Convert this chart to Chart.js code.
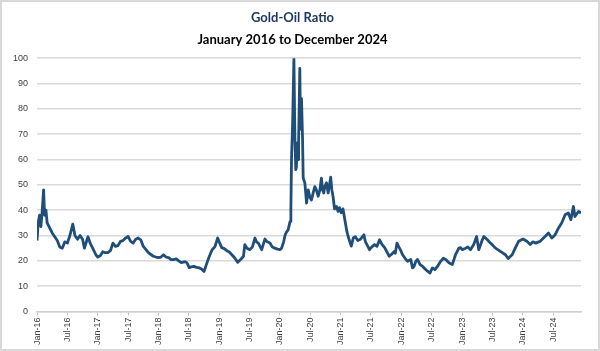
<!DOCTYPE html>
<html>
<head>
<meta charset="utf-8">
<title>Gold-Oil Ratio</title>
<script src="https://cdn.jsdelivr.net/npm/chart.js@4.4.1/dist/chart.umd.min.js"></script>
<style>
  html, body { margin: 0; padding: 0; background: #ffffff; }
  #wrap { position: relative; width: 600px; height: 351px; }
  #frame { position: absolute; left: 0; top: 0; width: 600px; height: 351px;
           box-sizing: border-box; border: 2px solid #d9d9d9; pointer-events: none; }
</style>
</head>
<body>
<div id="wrap">
  <canvas id="ratioChart" width="600" height="351"></canvas>
  <div id="frame"></div>
</div>
<script>
// --- data: dates (MM-DD) and gold/oil ratio, one pair per year ---
const d2016 = ['01-01','01-08','01-16','01-24','02-01','02-10','02-16','02-24','03-01','03-16','04-01','04-16','05-01','05-16','06-01','06-16','07-01','07-16','08-03','08-16','09-01','09-16','10-01','10-12','11-03','11-16','12-01','12-20'];
const v2016 = [28, 35, 38, 33.5, 39, 48, 38, 40, 35, 33, 31, 29.5, 28, 25.5, 25, 27.5, 27, 30, 34.5, 30, 28.5, 30, 28.5, 25, 29.5, 27, 25, 22.4];

const d2017 = ['01-01','01-16','02-01','02-16','03-01','03-16','04-01','04-16','05-01','05-16','06-01','06-16','07-01','07-16','08-01','08-16','09-01','09-16','10-01','10-16','11-01','11-16','12-01','12-16'];
const v2017 = [21.5, 22, 23.6, 23.2, 23.2, 24, 27, 25.7, 26, 27.7, 28, 29, 29.6, 27.7, 27, 28.5, 29, 28.3, 25.7, 24.5, 23.2, 22.5, 21.8, 21.5];

const d2018 = ['01-01','01-16','02-01','02-16','03-01','03-16','04-01','04-16','05-01','05-16','06-09','06-20','07-03','07-16','08-01','08-16','09-01','09-16','10-01','10-19','11-01','11-19','12-06','12-22'];
const v2018 = [21.3, 21.5, 22.4, 21.5, 21.3, 20.5, 20.5, 20.8, 20, 19.3, 19.7, 19.2, 17.3, 17.6, 17.8, 17.4, 17.3, 16.8, 15.8, 19.3, 21.5, 24.4, 25.6, 29];

const d2019 = ['01-01','01-16','02-01','02-16','03-01','03-16','04-01','04-21','05-08','05-25','06-03','06-16','07-03','07-18','08-03','08-12','08-23','09-13','10-02','10-16','11-02','11-16','12-01','12-16'];
const v2019 = [27.5, 25.2, 24.8, 24, 23.5, 22.4, 21.3, 19.4, 20.5, 21.8, 26.4, 25, 24.4, 25.5, 29, 27.5, 27, 24.4, 28.6, 27.5, 27, 25.5, 25, 24.6];

const d2020 = ['01-01','01-11','01-24','02-01','02-07','02-20','03-01','03-06','03-10','03-16','03-24','03-30','04-05','04-09','04-13','04-19','04-22','04-29','05-03','05-09','05-15','05-19','05-29','06-09','06-19','06-28','07-08','07-18','07-28','08-07','08-18','08-28','09-07','09-14','09-21','09-27','10-07','10-17','10-25','11-02','11-09','11-16','11-25','12-06','12-16','12-24'];
const v2020 = [24.4, 25, 27.7, 30, 31, 32.3, 35.5, 40, 61, 73, 100, 68, 56, 57, 66.5, 60, 67.7, 96, 72, 84, 69, 52.7, 50.7, 42.8, 48, 45.3, 44, 46.8, 49.3, 48, 45.5, 48, 52.6, 48, 46.8, 49.3, 50.8, 46.8, 50, 53, 48, 45.4, 40.5, 41.5, 39.5, 41];

const d2021 = ['01-05','01-15','01-29','02-08','02-16','03-04','03-16','03-28','04-13','04-28','05-19','05-27','06-10','06-22','07-06','07-22','08-06','08-22','09-06','09-22','10-19','10-30','11-19','11-25','12-05','12-16','12-28'];
const v2021 = [39, 40.5, 35, 31.6, 29.5, 25.8, 29, 29.5, 28, 28.5, 30.3, 27.7, 26, 24.4, 25.5, 26.4, 25.7, 28.3, 26.5, 25.2, 21.8, 22.4, 23.7, 23, 27, 25.5, 24];

const d2022 = ['01-08','01-28','02-08','02-27','03-07','03-16','03-27','04-07','04-22','05-07','05-16','06-06','06-21','07-05','07-20','08-05','08-24','09-10','09-24','10-13','11-03','11-22','12-12','12-22'];
const v2022 = [22.4, 20.5, 19.8, 20.5, 17.2, 17.8, 19.8, 20.5, 18.5, 17.8, 17.2, 15.9, 15.2, 17.2, 16.5, 17.8, 19.8, 21, 20.5, 19.2, 18.5, 22.4, 25, 25.2];

const d2023 = ['01-02','01-22','02-05','02-21','03-10','03-27','04-10','05-01','05-10','05-31','06-19','07-05','07-19','08-18','09-18','10-04','10-28','11-16','12-06'];
const v2023 = [24.4, 25, 25.5, 24.4, 26.4, 29.6, 24.4, 28.3, 29.6, 28.3, 27, 26, 25, 23.7, 22.4, 20.9, 22.4, 25, 27.7];

const d2024 = ['01-02','01-25','02-15','03-01','03-15','04-14','05-13','06-03','06-23','07-13','08-02','08-22','09-12','10-01','10-16','11-01','11-10','12-01','12-16'];
const v2024 = [28.6, 27.7, 26.4, 27.5, 27, 27.7, 29.6, 31, 29, 30.3, 32.9, 35, 38.2, 38.9, 36.2, 41.5, 37.5, 39.5, 38.9];

// x-axis tick labels, every 6 months from Jan-16
const xTickLabels = ['Jan-16','Jul-16','Jan-17','Jul-17','Jan-18','Jul-18','Jan-19','Jul-19','Jan-20',
                     'Jul-20','Jan-21','Jul-21','Jan-22','Jul-22','Jan-23','Jul-23','Jan-24','Jul-24'];
const yTicks = [0, 10, 20, 30, 40, 50, 60, 70, 80, 90, 100];

const years = [[2016, d2016, v2016], [2017, d2017, v2017], [2018, d2018, v2018],
               [2019, d2019, v2019], [2020, d2020, v2020], [2021, d2021, v2021],
               [2022, d2022, v2022], [2023, d2023, v2023], [2024, d2024, v2024]];

// months since Jan 2016 (fractional)
function monthIndex(year, md) {
    const [m, d] = md.split('-').map(Number);
    return (year - 2016) * 12 + (m - 1) + (d - 1) / 30;
}

const points = [];
years.forEach(([yr, dates, vals]) => {
    dates.forEach((md, i) => points.push({ x: monthIndex(yr, md), y: vals[i] }));
});

const tickFont = { family: '"Liberation Sans", Arial, sans-serif', size: 9 };

new Chart(document.getElementById('ratioChart'), {
    type: 'line',
    data: {
        datasets: [{
            label: 'Gold-Oil Ratio',
            data: points,
            borderColor: '#1f4e79',
            borderWidth: 2.8,
            pointRadius: 0,
            tension: 0,
            borderJoinStyle: 'round'
        }]
    },
    options: {
        responsive: false,
        animation: false,
        layout: { padding: { left: 4, right: 19, top: 0, bottom: 4 } },
        plugins: {
            legend: { display: false },
            tooltip: { enabled: false },
            title: {
                display: true,
                text: 'Gold-Oil Ratio',
                color: '#1f3864',
                font: { family: 'Lato, "Open Sans", sans-serif', size: 13, weight: 'bold' },
                padding: { top: 10, bottom: 6 }
            },
            subtitle: {
                display: true,
                text: 'January 2016 to December 2024',
                color: '#000000',
                font: { family: 'Lato, "Open Sans", sans-serif', size: 13, weight: 'bold' },
                padding: { bottom: 11 }
            }
        },
        scales: {
            x: {
                type: 'linear',
                min: 0,
                max: 107.5,
                afterBuildTicks: (scale) => {
                    scale.ticks = xTickLabels.map((l, i) => ({ value: i * 6 }));
                },
                ticks: {
                    autoSkip: false,
                    minRotation: 90,
                    maxRotation: 90,
                    color: '#404040',
                    font: tickFont,
                    padding: 2,
                    callback: (v, i) => xTickLabels[i]
                },
                grid: { drawOnChartArea: false, drawTicks: true, tickLength: 4, color: '#bfbfbf' },
                border: { display: true, color: '#d0d0d0', width: 1.5 }
            },
            y: {
                min: 0,
                max: 100,
                afterBuildTicks: (scale) => {
                    scale.ticks = yTicks.map(v => ({ value: v }));
                },
                ticks: { color: '#404040', font: tickFont, padding: 9 },
                grid: { color: '#d9d9d9', lineWidth: 1.5, drawTicks: false },
                border: { display: false }
            }
        }
    }
});
</script>
</body>
</html>
